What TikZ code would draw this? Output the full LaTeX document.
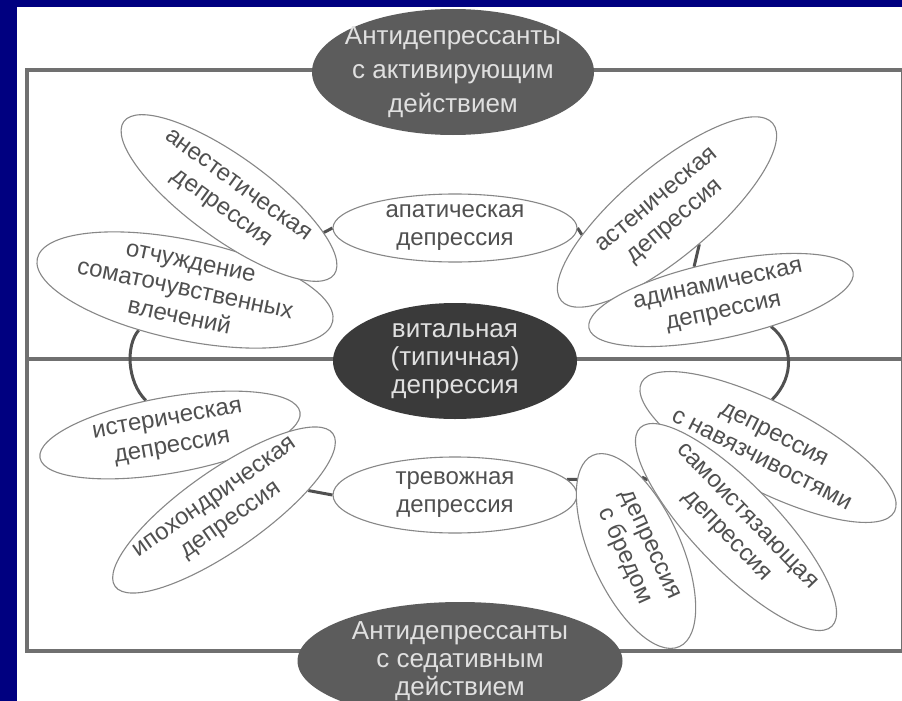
\documentclass[tikz,border=0pt]{standalone}
\usepackage{fontspec}
\setmainfont{Liberation Sans}
\usetikzlibrary{shapes.geometric,backgrounds}
\definecolor{bgblue}{RGB}{0,0,128}
\definecolor{boxgray}{RGB}{112,112,112}
\definecolor{textgray}{RGB}{80,80,80}
\definecolor{rimgray}{RGB}{135,135,135}
\definecolor{darkfill}{RGB}{58,58,58}
\definecolor{midfill}{RGB}{92,92,92}
\begin{document}
\begin{tikzpicture}[x=1pt, y=-1pt,
    kind/.style={ellipse, draw=rimgray, line width=1.1pt, fill=white, text=textgray,
      align=center, inner sep=-30pt, font=\fontsize{24}{28}\selectfont},
    hub/.style={ellipse, fill=#1, text=white!88!black, align=center,
      inner sep=-30pt, font=\fontsize{26}{28}\selectfont},
    boxline/.style={boxgray, line width=4pt},
    link/.style={textgray, line width=3pt}
  ]
  \useasboundingbox (0,0) rectangle (902,701);

  \node[hub=midfill, minimum width=282pt, minimum height=126pt, font=\fontsize{26}{34}\selectfont] (act) at (453,72) {Антидепрессанты\\с активирующим\\действием};
  \node[hub=darkfill, minimum width=244pt, minimum height=116pt] (vit) at (455,361) {витальная\\(типичная)\\депрессия};
  \node[hub=midfill, minimum width=325pt, minimum height=118pt] (sed) at (460,661) {Антидепрессанты\\с седативным\\действием};

  \node[kind, minimum width=302pt, minimum height=100pt, rotate=-12] (som) at (185,290) {отчуждение\\соматочувственных\\влечений};
  \node[kind, minimum width=260pt, minimum height=82pt, rotate=-36] (ane) at (229,198) {анестетическая\\депрессия};
  \node[kind, minimum width=244pt, minimum height=68pt] (apa) at (455,228) {апатическая\\депрессия};
  \node[kind, minimum width=276pt, minimum height=90pt, rotate=40] (ast) at (667,212) {астеническая\\депрессия};
  \node[kind, minimum width=270pt, minimum height=76pt, rotate=12] (ady) at (721,300) {адинамическая\\депрессия};

  \node[kind, minimum width=264pt, minimum height=76pt, rotate=10] (ist) at (170,435) {истерическая\\депрессия};
  \node[kind, minimum width=266pt, minimum height=80pt, rotate=35] (hyp) at (224,510) {ипохондрическая\\депрессия};
  \node[kind, minimum width=244pt, minimum height=76pt] (anx) at (455,495) {тревожная\\депрессия};
  \node[kind, minimum width=284pt, minimum height=88pt, rotate=-27] (obs) at (768,447) {депрессия\\с навязчивостями};
  \node[kind, minimum width=276pt, minimum height=84pt, rotate=-46] (self) at (736,527) {самоистязающая\\депрессия};
  \node[kind, minimum width=210pt, minimum height=90pt, rotate=-65.6] (del) at (636,551) {депрессия\\с бредом};

  \coordinate (tl) at (27,70);
  \coordinate (tr) at (903,70);
  \coordinate (bl) at (27,651);
  \coordinate (br) at (903,651);
  \coordinate (ml) at (27,359);
  \coordinate (mr) at (903,359);

  \begin{scope}[on background layer]
    \fill[bgblue] (0,0) rectangle (902,701);
    \fill[white] (17,7) rectangle (902,701);
    \draw[boxline] (tr) -- (tl) -- (bl) -- (br) -- cycle;
    \draw[boxline] (ml) -- (mr);
    \draw[link] (som.-127) .. controls +(-13,15) and +(-19,-19) .. (ist.115);
    \draw[link] (ady.-40) .. controls +(22,17) and +(23,-23) .. (obs.112);
    \draw[link] (ane.16) -- (apa.west);
    \draw[link] (apa.east) -- (ast.155);
    \draw[link] (ast.-85) -- (ady.117);
    \draw[link] (hyp.-22) -- (anx.west);
    \draw[link] (anx.8) -- (del.195);
    \draw[link] (del.151) -- (self.-162);
  \end{scope}
\end{tikzpicture}
\end{document}
